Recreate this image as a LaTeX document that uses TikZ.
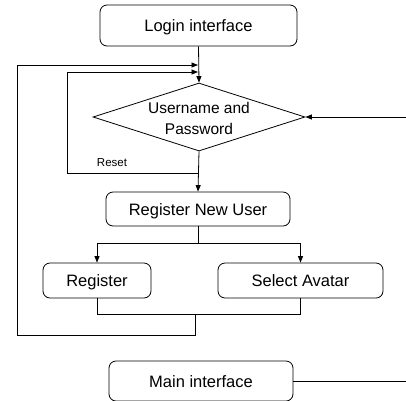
\documentclass[tikz,border=0pt]{standalone}
\usepackage{fontspec}
\setmainfont{Liberation Sans}
\usetikzlibrary{shapes.geometric,arrows.meta}
\begin{document}
\begin{tikzpicture}[x=1pt,y=-1pt,
  box/.style={draw, rounded corners=7pt, line width=0.8pt, inner sep=0pt, text height=12pt, text depth=0pt, font=\fontsize{16.5}{19}\selectfont},
  line/.style={line width=0.8pt},
  arr/.style={line width=0.8pt, -{Triangle[length=6.5pt,width=5pt]}}]
\useasboundingbox (0,0) rectangle (406,400);
\node[box, minimum width=197pt, minimum height=41pt] (login) at (198.5,25.5) {Login interface};
\node[diamond, draw, line width=0.8pt, minimum width=212pt, minimum height=68pt, inner sep=0pt] (dia) at (199,117) {};
\node[align=center, font=\fontsize{15.5}{21}\selectfont] (diat) at (199,118) {Username and\\Password};
\node[box, minimum width=184pt, minimum height=34pt] (rnu) at (198,209) {Register New User};
\node[box, minimum width=108pt, minimum height=35pt] (reg) at (97,280.5) {Register};
\node[box, minimum width=165pt, minimum height=35pt] (sel) at (300.5,280.5) {Select Avatar};
\node[box, minimum width=184pt, minimum height=40pt] (main) at (201,381) {Main interface};
\node[font=\fontsize{11.5}{13}\selectfont] (reset) at (112,163) {Reset};
\coordinate (rin) at (406,117);
\coordinate (mout) at (406,381);
% main flow
\draw[arr] (login.south) -- (dia.north);
\draw[arr] (dia.south) -- (rnu.north);
\draw[arr] (rin) -- (dia.east);
\draw[line] (main.east) -- (mout);
% branches
\coordinate (split) at (198,243);
\draw[line] (rnu.south) -- (split);
\draw[arr] (split) -| (reg.north);
\draw[arr] (split) -| (sel.north);
% merge
\coordinate (merge) at (195,314);
\draw[line] (reg.south) |- (merge);
\draw[line] (sel.south) |- (merge);
% outer loop
\coordinate (o1) at (195,335);
\coordinate (o2) at (17,335);
\coordinate (o3) at (17,65);
\coordinate (o4) at (198,65);
\draw[arr] (merge) -- (o1) -- (o2) -- (o3) -- (o4);
% reset loop
\coordinate (r1) at (198,173);
\coordinate (r2) at (67,173);
\coordinate (r3) at (67,72);
\coordinate (r4) at (198,72);
\draw[arr] (r1) -- (r2) -- (r3) -- (r4);
\end{tikzpicture}
\end{document}
